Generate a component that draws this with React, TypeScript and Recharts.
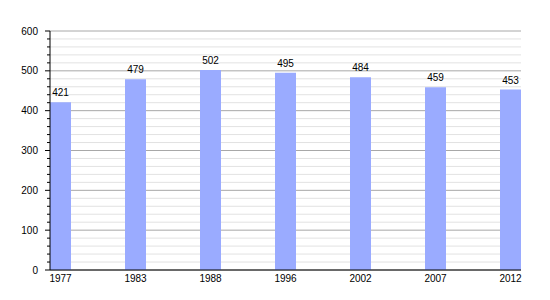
import React from 'react';
import { BarChart, Bar, XAxis, YAxis, CartesianGrid, LabelList } from 'recharts';

const years = ['1977', '1983', '1988', '1996', '2002', '2007', '2012'];
const population = [421, 479, 502, 495, 484, 459, 453];
const majorTicks = [0, 100, 200, 300, 400, 500, 600];
const minorTicks = [20, 40, 60, 80, 120, 140, 160, 180, 220, 240, 260, 280, 320, 340, 360, 380, 420, 440, 460, 480, 520, 540, 560, 580];
const allTicks = [...majorTicks, ...minorTicks].sort((a, b) => a - b);

const data = years.map((y, i) => ({ idx: i, year: y, value: population[i] }));
const FONT = '"Liberation Sans", Arial, sans-serif';

const YTick = (props: any) => {
  const { x, y, payload } = props;
  const major = payload.value % 100 === 0;
  return (
    <g>
      <line x1={x - (major ? 5 : 3)} x2={x} y1={y} y2={y} stroke="#000" strokeWidth={1} />
      {major && (
        <text x={x - 12} y={y} dy={3.5} textAnchor="end" fontSize={10} fontFamily={FONT} fill="#000">
          {payload.value}
        </text>
      )}
    </g>
  );
};

const XTick = (props: any) => {
  const { x, y, payload } = props;
  return (
    <text x={x} y={y} dy={12} textAnchor="middle" fontSize={10} fontFamily={FONT} fill="#000">
      {years[payload.value]}
    </text>
  );
};

export default function App() {
  return (
    <BarChart width={542} height={292} data={data} margin={{ top: 23, right: 29, left: 0, bottom: 10 }}>
      <CartesianGrid horizontal vertical={false} horizontalValues={minorTicks} stroke="#e2e2e2" />
      <CartesianGrid horizontal vertical={false} horizontalValues={majorTicks} stroke="#a8a8a8" />
      <XAxis
        dataKey="idx"
        type="number"
        domain={[-0.14, 6.14]}
        ticks={[0, 1, 2, 3, 4, 5, 6]}
        interval={0}
        height={20}
        tickLine={false}
        tickSize={0}
        tickMargin={0}
        axisLine={{ stroke: '#000' }}
        tick={<XTick />}
        allowDataOverflow
      />
      <YAxis
        type="number"
        domain={[0, 600]}
        ticks={allTicks}
        interval={0}
        width={42}
        tickLine={false}
        tickSize={0}
        tickMargin={0}
        axisLine={{ stroke: '#000' }}
        tick={<YTick />}
      />
      <Bar dataKey="value" fill="#9aabff" barSize={21} isAnimationActive={false}>
        <LabelList dataKey="value" position="top" offset={6} fontSize={10} fontFamily={FONT} fill="#000" />
      </Bar>
    </BarChart>
  );
}
